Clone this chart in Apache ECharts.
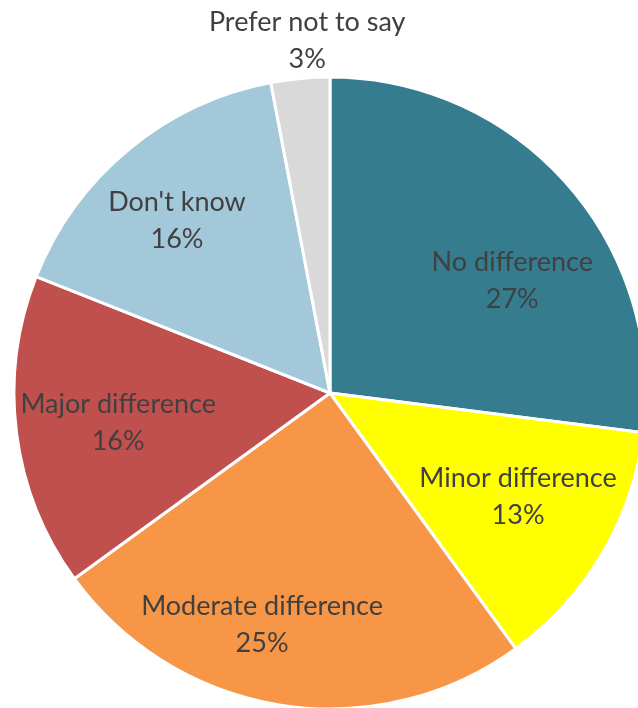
<!DOCTYPE html>
<html>
<head>
<meta charset="utf-8">
<script src="https://cdn.jsdelivr.net/npm/echarts@6/dist/echarts.min.js"></script>
<style>
html,body{margin:0;padding:0;background:#fff;}
#chart{width:638px;height:708px;}
</style>
</head>
<body>
<div id="chart"></div>
<script>
// Survey responses: how much difference it makes
const categories = ['No difference', 'Minor difference', 'Moderate difference', 'Major difference', "Don't know", 'Prefer not to say'];
const shares = [27, 13, 25, 16, 16, 3];
const colors = ['#367C8F', '#FFFF00', '#F79646', '#C0504D', '#A2C8DA', '#D9D9D9'];

const CX = 330, CY = 393, R = 316;
// label centres in polar form: angle clockwise from 12 o'clock (deg), distance from centre (px)
const labelAngle = [58.4, 119.0, 196.3, 261.9, 318.3, 356.3];
const labelRadius = [214, 215, 242, 214, 230, 353];

const chart = echarts.init(document.getElementById('chart'));
chart.setOption({
  animation: false,
  series: [{
    type: 'pie',
    center: [CX, CY],
    radius: [0, R],
    startAngle: 90,
    clockwise: true,
    avoidLabelOverlap: false,
    data: categories.map((name, i) => ({
      name: name,
      value: shares[i],
      itemStyle: { color: colors[i] }
    })),
    itemStyle: { borderColor: '#ffffff', borderWidth: 3 },
    label: {
      show: true,
      position: 'inside',
      formatter: '{b}\n{c}%',
      fontFamily: 'Lato',
      fontSize: 27,
      lineHeight: 37,
      color: '#404040',
      align: 'center',
      verticalAlign: 'middle'
    },
    labelLine: { show: false },
    labelLayout: function (p) {
      const a = labelAngle[p.dataIndex] * Math.PI / 180;
      const d = labelRadius[p.dataIndex];
      return { x: CX + d * Math.sin(a), y: CY - d * Math.cos(a), align: 'center', verticalAlign: 'middle' };
    }
  }]
});
</script>
</body>
</html>
